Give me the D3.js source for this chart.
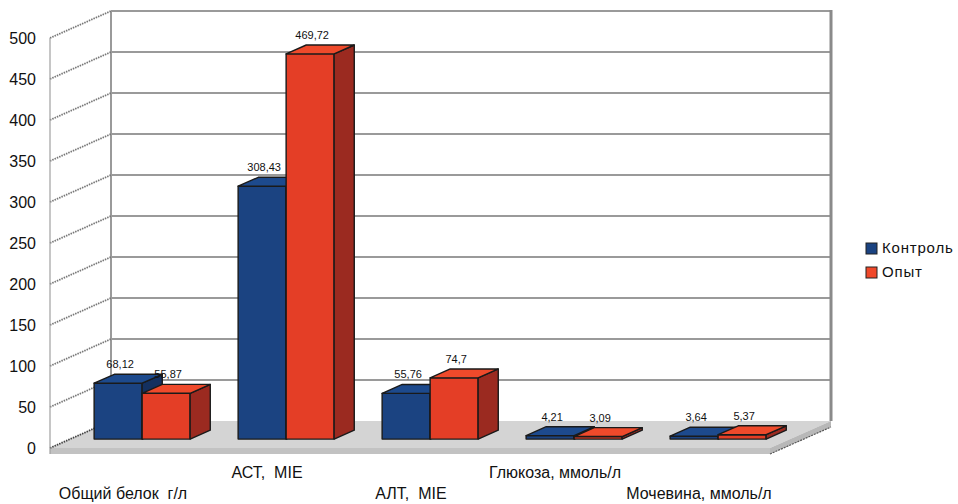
<!DOCTYPE html>
<html>
<head>
<meta charset="utf-8">
<script src="https://cdn.jsdelivr.net/npm/d3@7/dist/d3.min.js"></script>
<style>
  html, body { margin: 0; padding: 0; background: #fff; }
  svg { display: block; font-family: "Liberation Sans", Arial, sans-serif; }
</style>
</head>
<body>
<svg id="chart" width="958" height="504"></svg>
<script>
// Chart data
const categories = ["Общий белок  г/л", "АСТ,  МIЕ", "АЛТ,  МIЕ", "Глюкоза, ммоль/л", "Мочевина, ммоль/л"];
const seriesNames = ["Контроль", "Опыт"];
const controlValues = [68.12, 308.43, 55.76, 4.21, 3.64];
const experimentValues = [55.87, 469.72, 74.7, 3.09, 5.37];
const valueLabels = [
  ["68,12", "308,43", "55,76", "4,21", "3,64"],
  ["55,87", "469,72", "74,7", "3,09", "5,37"]
];
const yTicks = [0, 50, 100, 150, 200, 250, 300, 350, 400, 450, 500];

// Geometry of the 3D box
const frontX0 = 50, frontX1 = 770, floorY = 448;
const DX = 61, DY = -27;           // depth vector, front to back wall
const barD0 = 0.33, barD1 = 0.66;  // depth slice occupied by the bars

const svg = d3.select("#chart");

const x = d3.scaleBand().domain(categories).range([frontX0, frontX1]);
const xs = d3.scaleBand().domain(seriesNames).range([x.bandwidth() / 6, x.bandwidth() * 5 / 6]);
const y = d3.scaleLinear().domain([0, 500]).range([floorY, floorY - 410]);

// project (xFront, value, depth) onto the screen
const P = (px, v, d) => [px + d * DX, y(v) + d * DY];
const poly = pts => pts.map(p => p.join(",")).join(" ");

const palette = {
  "Контроль": { front: "#1b4381", top: "#1d4a8d", side: "#14305f", key: "#1b4381" },
  "Опыт": { front: "#e43e26", top: "#ef4a2b", side: "#9b2a20", key: "#f0482a" }
};

// floor slab
const floorThick = 6;
svg.append("polygon")
  .attr("points", poly([P(frontX0, 0, 0), P(frontX1, 0, 0), P(frontX1, 0, 1), P(frontX0, 0, 1)]))
  .attr("fill", "#d4d4d4");
svg.append("polygon")
  .attr("points", poly([P(frontX0, 0, 0), P(frontX1, 0, 0),
    [frontX1, floorY + floorThick], [frontX0, floorY + floorThick]]))
  .attr("fill", "#c2c2c2");
svg.append("polygon")
  .attr("points", poly([P(frontX1, 0, 0), P(frontX1, 0, 1),
    [frontX1 + DX, floorY + DY + floorThick], [frontX1, floorY + floorThick]]))
  .attr("fill", "#b8b8b8");
svg.append("line")
  .attr("x1", frontX1).attr("y1", floorY + floorThick)
  .attr("x2", frontX1 + DX).attr("y2", floorY + DY + floorThick)
  .attr("stroke", "#555").attr("stroke-width", 1.2).attr("stroke-dasharray", "2,1");

// back wall
const backL = frontX0 + DX, backR = frontX1 + DX;
svg.append("rect")
  .attr("x", backL).attr("y", y(500) + DY)
  .attr("width", backR - backL).attr("height", y(0) - y(500))
  .attr("fill", "#fff");
svg.append("g").selectAll("line").data(yTicks.slice(1)).join("line")
  .attr("x1", backL).attr("x2", backR)
  .attr("y1", d => y(d) + DY).attr("y2", d => y(d) + DY)
  .attr("stroke", "#9a9a9a").attr("stroke-width", 2);
svg.append("line")
  .attr("x1", backL).attr("x2", backL).attr("y1", y(500) + DY).attr("y2", y(0) + DY)
  .attr("stroke", "#9a9a9a").attr("stroke-width", 2);
svg.append("line")
  .attr("x1", backR).attr("x2", backR).attr("y1", y(500) + DY - 1).attr("y2", y(0) + DY)
  .attr("stroke", "#8a8a8a").attr("stroke-width", 3);

// side wall grid lines
svg.append("g").selectAll("line").data(yTicks).join("line")
  .attr("x1", frontX0).attr("y1", d => y(d))
  .attr("x2", backL).attr("y2", d => y(d) + DY)
  .attr("stroke", d => d === 0 ? "#444" : "#777")
  .attr("stroke-width", 1.8)
  .attr("stroke-dasharray", "1.5,1");
svg.append("line")
  .attr("x1", frontX0).attr("x2", frontX0).attr("y1", y(500)).attr("y2", y(0) + floorThick)
  .attr("stroke", "#a0a0a0").attr("stroke-width", 1.2);

// y axis labels
svg.append("g").selectAll("text").data(yTicks).join("text")
  .attr("x", 36).attr("y", d => y(d) + 2)
  .attr("text-anchor", "end").attr("dominant-baseline", "middle")
  .attr("font-size", 16).attr("fill", "#111")
  .text(d => d);

// bars
const seriesValues = [controlValues, experimentValues];
const barsG = svg.append("g")
  .attr("stroke", "#1a1a1a").attr("stroke-width", 1.4).attr("stroke-linejoin", "round");
categories.forEach((cat, ci) => {
  seriesNames.forEach((s, si) => {
    const v = seriesValues[si][ci];
    const xl = x(cat) + xs(s), xr = xl + xs.bandwidth();
    const c = palette[s];
    const g = barsG.append("g");
    // front face
    g.append("polygon")
      .attr("points", poly([P(xl, 0, barD0), P(xr, 0, barD0), P(xr, v, barD0), P(xl, v, barD0)]))
      .attr("fill", c.front);
    // right side face
    g.append("polygon")
      .attr("points", poly([P(xr, 0, barD0), P(xr, 0, barD1), P(xr, v, barD1), P(xr, v, barD0)]))
      .attr("fill", c.side);
    // top face
    g.append("polygon")
      .attr("points", poly([P(xl, v, barD0), P(xr, v, barD0), P(xr, v, barD1), P(xl, v, barD1)]))
      .attr("fill", c.top);
  });
});

// value labels
categories.forEach((cat, ci) => {
  seriesNames.forEach((s, si) => {
    const v = seriesValues[si][ci];
    const cx = x(cat) + xs(s) + xs.bandwidth() / 2;
    const p = P(cx, v, barD0);
    svg.append("text")
      .attr("x", p[0] + 2).attr("y", y(v) + barD1 * DY - 6)
      .attr("text-anchor", "middle")
      .attr("font-size", 11).attr("fill", "#111")
      .text(valueLabels[si][ci]);
  });
});

// category labels, staggered on two rows
svg.append("g").selectAll("text").data(categories).join("text")
  .attr("x", d => x(d) + x.bandwidth() / 2 + 1)
  .attr("y", (d, i) => i % 2 === 0 ? 499 : 478)
  .attr("text-anchor", "middle")
  .attr("font-size", 16).attr("fill", "#111")
  .style("white-space", "pre")
  .text(d => d);

// legend
const legend = svg.append("g").attr("transform", "translate(866,243)");
seriesNames.forEach((s, i) => {
  legend.append("rect")
    .attr("x", 0).attr("y", i * 24).attr("width", 11).attr("height", 11)
    .attr("fill", palette[s].key)
    .attr("stroke", "#222").attr("stroke-width", 1);
  legend.append("text")
    .attr("x", 16).attr("y", i * 24 + 6)
    .attr("dominant-baseline", "middle")
    .attr("font-size", 15).attr("letter-spacing", 0.8).attr("fill", "#111")
    .text(s);
});
</script>
</body>
</html>
